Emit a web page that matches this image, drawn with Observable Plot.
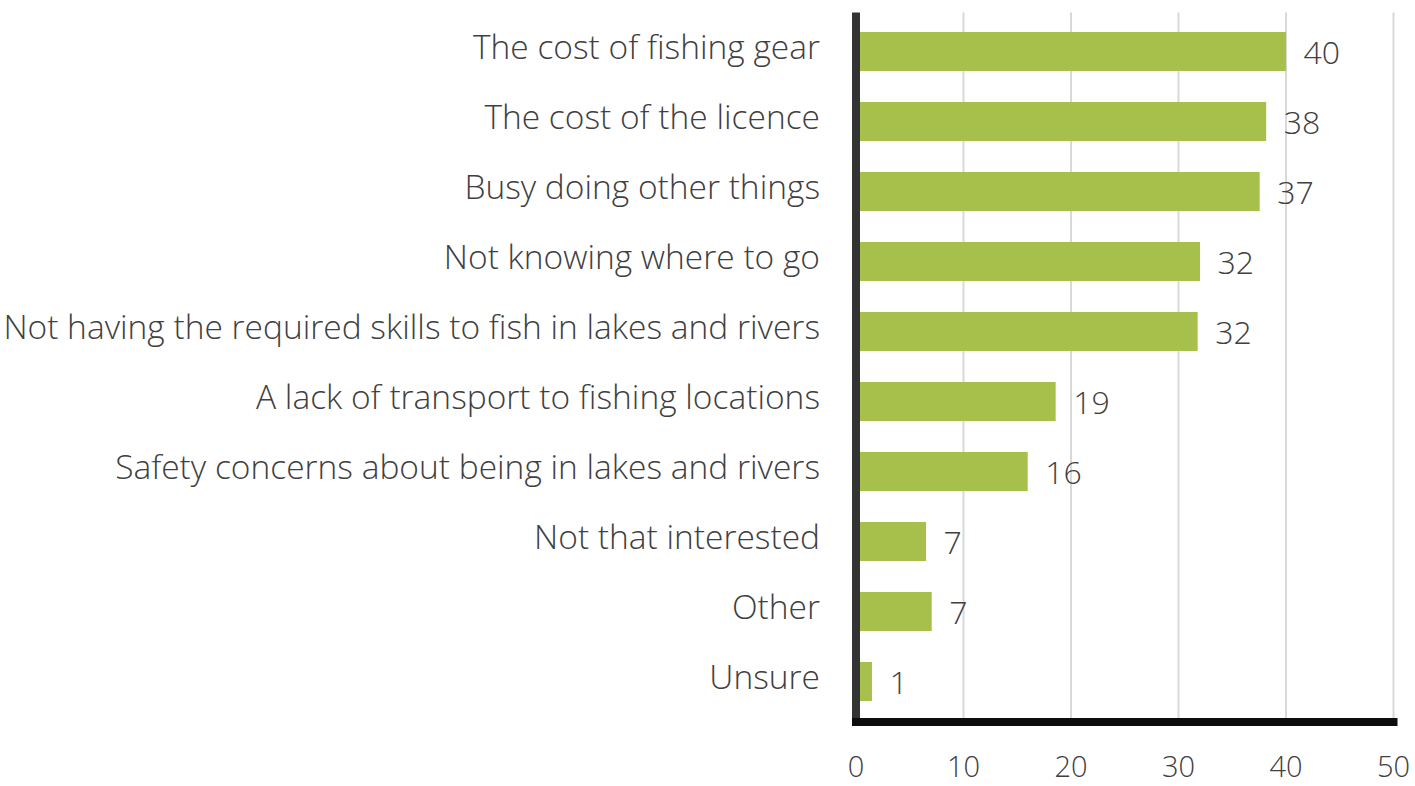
<!DOCTYPE html>
<html>
<head>
<meta charset="utf-8">
<script src="https://cdn.jsdelivr.net/npm/d3@7"></script>
<script src="https://cdn.jsdelivr.net/npm/@observablehq/plot@0.6"></script>
<style>
  html, body { margin: 0; padding: 0; background: #fff; }
  #chart { width: 1415px; height: 786px; }
  svg text { font-family: "Open Sans", Lato, sans-serif; font-weight: 300; }
</style>
</head>
<body>
<div id="chart"></div>
<script>
const categories = [
  "The cost of fishing gear",
  "The cost of the licence",
  "Busy doing other things",
  "Not knowing where to go",
  "Not having the required skills to fish in lakes and rivers",
  "A lack of transport to fishing locations",
  "Safety concerns about being in lakes and rivers",
  "Not that interested",
  "Other",
  "Unsure"
];
const values = [40.05, 38.2, 37.6, 32.05, 31.83, 18.62, 16.02, 6.56, 7.09, 1.53];
const valueLabels = ["40", "38", "37", "32", "32", "19", "16", "7", "7", "1"];
const xTicks = [0, 10, 20, 30, 40, 50];

const data = categories.map((c, i) => ({category: c, value: values[i], label: valueLabels[i]}));

const textColor = "#404040";

const chart = Plot.plot({
  width: 1415,
  height: 786,
  marginLeft: 855.5,
  marginRight: 22,
  marginTop: 12.5,
  marginBottom: 64.5,
  style: {fontFamily: "'Open Sans', Lato, sans-serif", color: textColor, background: "#fff"},
  x: {domain: [0, 50], ticks: xTicks},
  y: {domain: categories, paddingInner: 0.436, paddingOuter: 0.218},
  marks: [
    Plot.gridX(xTicks.slice(1), {stroke: "#d9d9d9", strokeWidth: 2, strokeOpacity: 1}),
    Plot.barX(data, {y: "category", x: "value", fill: "#a7c04c"}),
    Plot.text(data, {
      y: "category", x: "value", text: "label",
      textAnchor: "start", dx: 17, dy: 2,
      fontSize: 32, fill: textColor
    }),
    Plot.axisY({
      tickSize: 0, tickPadding: 36, fontSize: 33.5, fill: textColor, dy: -4, label: null
    }),
    Plot.axisX({
      ticks: xTicks, tickSize: 0, tickPadding: 34, fontSize: 29, fill: textColor, label: null
    }),
    Plot.ruleX([0], {stroke: "#333333", strokeWidth: 8}),
    Plot.frame({anchor: "bottom", stroke: "#0d0d0d", strokeWidth: 8, strokeLinecap: "square"})
  ]
});
document.getElementById("chart").appendChild(chart);
</script>
</body>
</html>
